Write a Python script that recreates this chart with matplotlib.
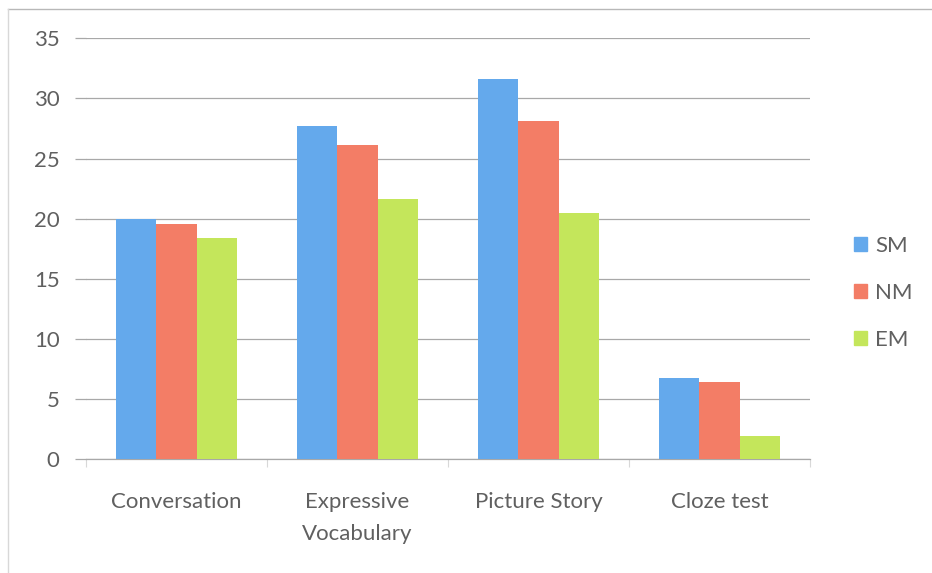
import matplotlib
matplotlib.use("Agg")
import matplotlib.pyplot as plt
import numpy as np
from matplotlib.lines import Line2D

categories = ["Conversation", "Expressive\nVocabulary", "Picture Story", "Cloze test"]
series_names = ["SM", "NM", "EM"]
sm_values = [20.0, 27.7, 31.6, 6.8]
nm_values = [19.6, 26.1, 28.1, 6.4]
em_values = [18.4, 21.6, 20.5, 1.9]
y_ticks = [0, 5, 10, 15, 20, 25, 30, 35]

colors = ["#64A9EC", "#F37D66", "#C4E65B"]
text_color = "#606060"
grid_color = "#A8A8A8"
font_size = 16

plt.rcParams["font.family"] = ["Lato", "DejaVu Sans"]

fig = plt.figure(figsize=(9.32, 5.73), dpi=100)
W, H = 932, 573
ax = fig.add_axes([86 / W, (H - 459.3) / H, (810 - 86) / W, (459.3 - 38.3) / H])

x = np.arange(len(categories))
bw = 0.221
for i, (vals, name) in enumerate(zip([sm_values, nm_values, em_values], series_names)):
    ax.bar(x + (i - 1) * bw, vals, width=bw, color=colors[i], label=name, zorder=3)

ax.set_xlim(-0.5, len(categories) - 0.5)
ax.set_ylim(0, 35)
ax.set_yticks(y_ticks)
ax.set_yticklabels([str(t) for t in y_ticks], fontsize=font_size, color=text_color)
ax.yaxis.grid(True, color=grid_color, linewidth=0.9, zorder=0)
ax.tick_params(axis="y", length=8, color=grid_color, width=0.9, pad=11)

# category labels sit between the boundary ticks
ax.set_xticks(np.arange(len(categories) + 1) - 0.5)
ax.set_xticklabels([""] * (len(categories) + 1))
ax.tick_params(axis="x", length=6, color="#D8D8D8", width=0.8)
for xi, lab in zip(x, categories):
    ax.text(xi, -2.7, lab, ha="center", va="top", fontsize=font_size, color=text_color,
            linespacing=1.75)

for s in ["top", "right", "left"]:
    ax.spines[s].set_visible(False)
ax.spines["bottom"].set_color(grid_color)
ax.spines["bottom"].set_linewidth(0.9)

handles = [plt.Rectangle((0, 0), 1, 1, color=c) for c in colors]
leg = fig.legend(handles, series_names, loc="center left",
                 bbox_to_anchor=(834 / W, (H - 293) / H), frameon=False,
                 prop={"size": font_size},
                 handlelength=0.6, handleheight=0.6,
                 handletextpad=0.35, labelspacing=1.22, labelcolor=text_color)

# outer chart frame
fig.add_artist(Line2D([8 / W, 1], [(H - 9) / H, (H - 9) / H], color="#B8B8B8", linewidth=1.0))
fig.add_artist(Line2D([8 / W, 8 / W], [0, (H - 9) / H], color="#D8D8D8", linewidth=1.0))

fig.savefig("out.png", dpi=100, facecolor="white")
